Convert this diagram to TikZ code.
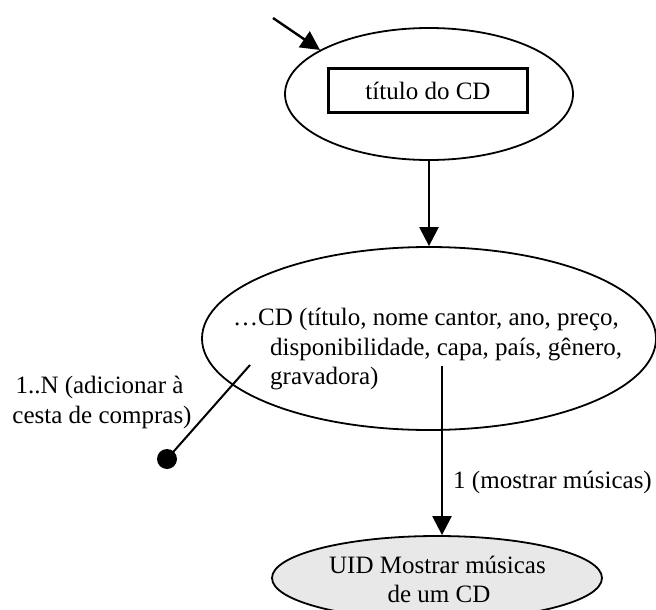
\documentclass[tikz,border=0pt]{standalone}
\usepackage{fontspec}
\setmainfont{Liberation Serif}
\usetikzlibrary{arrows.meta,shapes.geometric}
\begin{document}
\begin{tikzpicture}[x=1pt,y=-1pt,
  txt/.style={font=\fontsize{25}{30}\selectfont, inner sep=0pt},
  oval/.style={ellipse, draw, line width=1.8pt, inner sep=0pt},
  conn/.style={line width=2.4pt},
  arr/.style={conn, -{Triangle[length=19pt,width=19pt]}}]
\useasboundingbox (0,0) rectangle (656,610);
\clip (0,0) rectangle (656,610);
% top ellipse
\node[oval, minimum width=288, minimum height=132] (top) at (429,94) {};
\node[txt, draw, line width=2.6pt, minimum width=199, minimum height=44] (tit) at (428,90.5) {título do CD};
\coordinate (start) at (273,18);
\draw[arr] (start) -- (top.158);
% middle ellipse
\node[oval, minimum width=454, minimum height=183] (cd) at (429,338.5) {};
\node[txt, anchor=base west] (l1) at (233,325) {\ldots CD (título, nome cantor, ano, preço,};
\node[txt, anchor=base west] (l2) at (270,355) {disponibilidade, capa, país, gênero,};
\node[txt, anchor=base west] (l3) at (270,384) {gravadora)};
\draw[arr] (top.south) -- (cd.north);
% bottom ellipse
\node[oval, fill={rgb,255:red,232;green,232;blue,232}, minimum width=330, minimum height=84] (uid) at (437,578) {};
\node[txt, anchor=base] (u1) at (437.5,573) {UID Mostrar músicas};
\node[txt, anchor=base] (u2) at (439,602) {de um CD};
\coordinate (a2) at (442,366);
\draw[arr] (a2) -- (a2 |- uid.north);
\node[txt, anchor=base east] (lab1) at (652,488) {1 (mostrar músicas)};
% left connector with dot
\coordinate (a3) at (250,365);
\node[circle, fill=black, inner sep=0pt, minimum size=20] (dot) at (167,459) {};
\draw[conn, line width=2pt] (a3) -- (dot.center);
\node[txt, anchor=base] (n1) at (99.5,393) {1..N (adicionar à};
\node[txt, anchor=base] (n2) at (102,423) {cesta de compras)};
\end{tikzpicture}
\end{document}
